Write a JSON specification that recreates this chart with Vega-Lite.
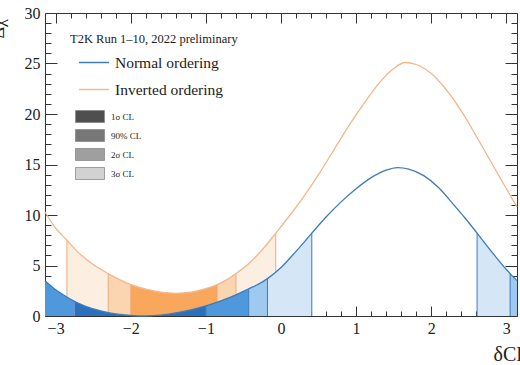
{
  "$schema": "https://vega.github.io/schema/vega-lite/v6.json",
  "width": 472,
  "height": 303,
  "autosize": "none",
  "padding": {"left": 45, "top": 13, "right": 3, "bottom": 49},
  "background": "white",
  "datasets": {
    "curves": [
      {"s": "Normal ordering", "x": -3.1416, "y": 3.5, "tone": "NO 90%", "piece": "n1"},
      {"s": "Normal ordering", "x": -3.0, "y": 2.6, "tone": "NO 90%", "piece": "n1"},
      {"s": "Normal ordering", "x": -2.9, "y": 2.1, "tone": "NO 90%", "piece": "n1"},
      {"s": "Normal ordering", "x": -2.75, "y": 1.45, "tone": "NO 90%", "piece": "n1"},
      {"s": "Normal ordering", "x": -2.75, "y": 1.45, "tone": "NO 1σ", "piece": "n2", "d": 1},
      {"s": "Normal ordering", "x": -2.6, "y": 0.95, "tone": "NO 1σ", "piece": "n2"},
      {"s": "Normal ordering", "x": -2.4, "y": 0.5, "tone": "NO 1σ", "piece": "n2"},
      {"s": "Normal ordering", "x": -2.2, "y": 0.2, "tone": "NO 1σ", "piece": "n2"},
      {"s": "Normal ordering", "x": -2.0, "y": 0.05, "tone": "NO 1σ", "piece": "n2"},
      {"s": "Normal ordering", "x": -1.8, "y": 0.0, "tone": "NO 1σ", "piece": "n2"},
      {"s": "Normal ordering", "x": -1.6, "y": 0.08, "tone": "NO 1σ", "piece": "n2"},
      {"s": "Normal ordering", "x": -1.4, "y": 0.3, "tone": "NO 1σ", "piece": "n2"},
      {"s": "Normal ordering", "x": -1.2, "y": 0.6, "tone": "NO 1σ", "piece": "n2"},
      {"s": "Normal ordering", "x": -1.0, "y": 1.0, "tone": "NO 1σ", "piece": "n2"},
      {"s": "Normal ordering", "x": -1.0, "y": 1.0, "tone": "NO 90%", "piece": "n3", "d": 1},
      {"s": "Normal ordering", "x": -0.8, "y": 1.5, "tone": "NO 90%", "piece": "n3"},
      {"s": "Normal ordering", "x": -0.6, "y": 2.1, "tone": "NO 90%", "piece": "n3"},
      {"s": "Normal ordering", "x": -0.43, "y": 2.7, "tone": "NO 90%", "piece": "n3"},
      {"s": "Normal ordering", "x": -0.43, "y": 2.7, "tone": "NO 2σ", "piece": "n4", "d": 1},
      {"s": "Normal ordering", "x": -0.3, "y": 3.15, "tone": "NO 2σ", "piece": "n4"},
      {"s": "Normal ordering", "x": -0.18, "y": 3.7, "tone": "NO 2σ", "piece": "n4"},
      {"s": "Normal ordering", "x": -0.18, "y": 3.7, "tone": "NO 3σ", "piece": "n5", "d": 1},
      {"s": "Normal ordering", "x": 0.0, "y": 4.8, "tone": "NO 3σ", "piece": "n5"},
      {"s": "Normal ordering", "x": 0.2, "y": 6.4, "tone": "NO 3σ", "piece": "n5"},
      {"s": "Normal ordering", "x": 0.41, "y": 8.2, "tone": "NO 3σ", "piece": "n5"},
      {"s": "Normal ordering", "x": 0.6, "y": 9.8, "tone": "none", "piece": "n0"},
      {"s": "Normal ordering", "x": 0.8, "y": 11.3, "tone": "none", "piece": "n0"},
      {"s": "Normal ordering", "x": 1.0, "y": 12.6, "tone": "none", "piece": "n0"},
      {"s": "Normal ordering", "x": 1.2, "y": 13.7, "tone": "none", "piece": "n0"},
      {"s": "Normal ordering", "x": 1.4, "y": 14.45, "tone": "none", "piece": "n0"},
      {"s": "Normal ordering", "x": 1.55, "y": 14.7, "tone": "none", "piece": "n0"},
      {"s": "Normal ordering", "x": 1.7, "y": 14.55, "tone": "none", "piece": "n0"},
      {"s": "Normal ordering", "x": 1.9, "y": 13.9, "tone": "none", "piece": "n0"},
      {"s": "Normal ordering", "x": 2.1, "y": 12.7, "tone": "none", "piece": "n0"},
      {"s": "Normal ordering", "x": 2.3, "y": 11.0, "tone": "none", "piece": "n0"},
      {"s": "Normal ordering", "x": 2.45, "y": 9.7, "tone": "none", "piece": "n0"},
      {"s": "Normal ordering", "x": 2.61, "y": 8.2, "tone": "NO 3σ", "piece": "n6"},
      {"s": "Normal ordering", "x": 2.8, "y": 6.4, "tone": "NO 3σ", "piece": "n6"},
      {"s": "Normal ordering", "x": 3.0, "y": 4.6, "tone": "NO 3σ", "piece": "n6"},
      {"s": "Normal ordering", "x": 3.05, "y": 4.2, "tone": "NO 3σ", "piece": "n6"},
      {"s": "Normal ordering", "x": 3.05, "y": 4.2, "tone": "NO 2σ", "piece": "n7", "d": 1},
      {"s": "Normal ordering", "x": 3.1416, "y": 3.5, "tone": "NO 2σ", "piece": "n7"},
      {"s": "Inverted ordering", "x": -3.1416, "y": 10.3, "tone": "none", "piece": "i0"},
      {"s": "Inverted ordering", "x": -3.0, "y": 8.7, "tone": "none", "piece": "i0"},
      {"s": "Inverted ordering", "x": -2.85, "y": 7.5, "tone": "none", "piece": "i0"},
      {"s": "Inverted ordering", "x": -2.85, "y": 7.5, "tone": "IO 3σ", "piece": "i1", "d": 1},
      {"s": "Inverted ordering", "x": -2.7, "y": 6.3, "tone": "IO 3σ", "piece": "i1"},
      {"s": "Inverted ordering", "x": -2.5, "y": 5.1, "tone": "IO 3σ", "piece": "i1"},
      {"s": "Inverted ordering", "x": -2.3, "y": 4.2, "tone": "IO 3σ", "piece": "i1"},
      {"s": "Inverted ordering", "x": -2.3, "y": 4.2, "tone": "IO 2σ", "piece": "i2", "d": 1},
      {"s": "Inverted ordering", "x": -2.15, "y": 3.6, "tone": "IO 2σ", "piece": "i2"},
      {"s": "Inverted ordering", "x": -2.0, "y": 3.1, "tone": "IO 2σ", "piece": "i2"},
      {"s": "Inverted ordering", "x": -2.0, "y": 3.1, "tone": "IO 90%", "piece": "i3", "d": 1},
      {"s": "Inverted ordering", "x": -1.8, "y": 2.65, "tone": "IO 90%", "piece": "i3"},
      {"s": "Inverted ordering", "x": -1.6, "y": 2.35, "tone": "IO 90%", "piece": "i3"},
      {"s": "Inverted ordering", "x": -1.4, "y": 2.25, "tone": "IO 90%", "piece": "i3"},
      {"s": "Inverted ordering", "x": -1.2, "y": 2.35, "tone": "IO 90%", "piece": "i3"},
      {"s": "Inverted ordering", "x": -1.0, "y": 2.7, "tone": "IO 90%", "piece": "i3"},
      {"s": "Inverted ordering", "x": -0.85, "y": 3.1, "tone": "IO 90%", "piece": "i3"},
      {"s": "Inverted ordering", "x": -0.85, "y": 3.1, "tone": "IO 2σ", "piece": "i4", "d": 1},
      {"s": "Inverted ordering", "x": -0.72, "y": 3.6, "tone": "IO 2σ", "piece": "i4"},
      {"s": "Inverted ordering", "x": -0.6, "y": 4.2, "tone": "IO 2σ", "piece": "i4"},
      {"s": "Inverted ordering", "x": -0.6, "y": 4.2, "tone": "IO 3σ", "piece": "i5", "d": 1},
      {"s": "Inverted ordering", "x": -0.4, "y": 5.4, "tone": "IO 3σ", "piece": "i5"},
      {"s": "Inverted ordering", "x": -0.2, "y": 7.0, "tone": "IO 3σ", "piece": "i5"},
      {"s": "Inverted ordering", "x": -0.07, "y": 8.2, "tone": "IO 3σ", "piece": "i5"},
      {"s": "Inverted ordering", "x": 0.1, "y": 9.8, "tone": "none", "piece": "i0"},
      {"s": "Inverted ordering", "x": 0.3, "y": 11.8, "tone": "none", "piece": "i0"},
      {"s": "Inverted ordering", "x": 0.5, "y": 14.0, "tone": "none", "piece": "i0"},
      {"s": "Inverted ordering", "x": 0.7, "y": 16.4, "tone": "none", "piece": "i0"},
      {"s": "Inverted ordering", "x": 0.9, "y": 18.8, "tone": "none", "piece": "i0"},
      {"s": "Inverted ordering", "x": 1.1, "y": 21.0, "tone": "none", "piece": "i0"},
      {"s": "Inverted ordering", "x": 1.3, "y": 23.0, "tone": "none", "piece": "i0"},
      {"s": "Inverted ordering", "x": 1.5, "y": 24.5, "tone": "none", "piece": "i0"},
      {"s": "Inverted ordering", "x": 1.65, "y": 25.1, "tone": "none", "piece": "i0"},
      {"s": "Inverted ordering", "x": 1.8, "y": 24.9, "tone": "none", "piece": "i0"},
      {"s": "Inverted ordering", "x": 2.0, "y": 24.0, "tone": "none", "piece": "i0"},
      {"s": "Inverted ordering", "x": 2.2, "y": 22.4, "tone": "none", "piece": "i0"},
      {"s": "Inverted ordering", "x": 2.4, "y": 20.3, "tone": "none", "piece": "i0"},
      {"s": "Inverted ordering", "x": 2.6, "y": 17.8, "tone": "none", "piece": "i0"},
      {"s": "Inverted ordering", "x": 2.8, "y": 15.2, "tone": "none", "piece": "i0"},
      {"s": "Inverted ordering", "x": 3.0, "y": 12.6, "tone": "none", "piece": "i0"},
      {"s": "Inverted ordering", "x": 3.1416, "y": 10.8, "tone": "none", "piece": "i0"}
    ],
    "edges": [
      {"s": "Normal ordering", "x": -1.0, "y": 1.0},
      {"s": "Normal ordering", "x": -0.43, "y": 2.7},
      {"s": "Normal ordering", "x": -0.18, "y": 3.7},
      {"s": "Normal ordering", "x": 0.41, "y": 8.2},
      {"s": "Normal ordering", "x": 2.61, "y": 8.2},
      {"s": "Normal ordering", "x": 3.05, "y": 4.2},
      {"s": "Inverted ordering", "x": -2.85, "y": 7.5},
      {"s": "Inverted ordering", "x": -2.3, "y": 4.2},
      {"s": "Inverted ordering", "x": -2.0, "y": 3.1},
      {"s": "Inverted ordering", "x": -0.85, "y": 3.1},
      {"s": "Inverted ordering", "x": -0.6, "y": 4.2},
      {"s": "Inverted ordering", "x": -0.07, "y": 8.2}
    ],
    "levels": [
      {"cl": "1σ CL"},
      {"cl": "90% CL"},
      {"cl": "2σ CL"},
      {"cl": "3σ CL"}
    ]
  },
  "resolve": {"scale": {"fill": "independent"}, "axis": {"x": "independent", "y": "independent"}},
  "layer": [
    {
      "data": {"name": "curves"},
      "transform": [{"filter": "datum.s == 'Inverted ordering' && datum.tone != 'none'"}],
      "mark": {"type": "area", "interpolate": "monotone"},
      "encoding": {
        "x": {"field": "x", "type": "quantitative", "scale": {"domain": [-3.1416, 3.1416], "nice": false, "zero": false}, "axis": null},
        "y": {"field": "y", "type": "quantitative", "stack": null, "scale": {"domain": [0, 30], "nice": false}, "axis": null},
        "detail": {"field": "piece", "type": "nominal"},
        "fill": {"field": "tone", "type": "nominal", "scale": {"domain": ["IO 3σ", "IO 2σ", "IO 90%"], "range": ["#fdeee2", "#fbd4b0", "#f8a75d"]}, "legend": null}
      }
    },
    {
      "data": {"name": "edges"},
      "transform": [{"filter": "datum.s == 'Inverted ordering'"}],
      "mark": {"type": "rule", "color": "#eeab7a", "strokeWidth": 1},
      "encoding": {
        "x": {"field": "x", "type": "quantitative", "axis": {
          "orient": "top", "labels": false, "title": null,
          "values": [-3, -2.8, -2.6, -2.4, -2.2, -2, -1.8, -1.6, -1.4, -1.2, -1, -0.8, -0.6, -0.4, -0.2, 0, 0.2, 0.4, 0.6, 0.8, 1, 1.2, 1.4, 1.6, 1.8, 2, 2.2, 2.4, 2.6, 2.8, 3],
          "tickSize": {"condition": {"test": "abs(datum.value - round(datum.value)) < 0.01", "value": -10}, "value": -5}
        }},
        "y": {"field": "y", "type": "quantitative", "axis": {
          "orient": "right", "labels": false, "title": null,
          "values": [0, 1, 2, 3, 4, 5, 6, 7, 8, 9, 10, 11, 12, 13, 14, 15, 16, 17, 18, 19, 20, 21, 22, 23, 24, 25, 26, 27, 28, 29, 30],
          "tickSize": {"condition": {"test": "datum.value % 5 == 0", "value": -12}, "value": -6}
        }},
        "y2": {"datum": 0}
      }
    },
    {
      "data": {"name": "curves"},
      "transform": [{"filter": "datum.s == 'Normal ordering' && datum.tone != 'none'"}],
      "mark": {"type": "area", "interpolate": "monotone"},
      "encoding": {
        "x": {"field": "x", "type": "quantitative", "axis": null},
        "y": {"field": "y", "type": "quantitative", "stack": null, "axis": null},
        "detail": {"field": "piece", "type": "nominal"},
        "fill": {"field": "tone", "type": "nominal", "scale": {"domain": ["NO 3σ", "NO 2σ", "NO 90%", "NO 1σ"], "range": ["#d5e7f7", "#9fc9ee", "#4f98dc", "#2b70bc"]}, "legend": null}
      }
    },
    {
      "data": {"name": "edges"},
      "transform": [{"filter": "datum.s == 'Normal ordering'"}],
      "mark": {"type": "rule", "color": "#3a7cbd", "strokeWidth": 1},
      "encoding": {
        "x": {"field": "x", "type": "quantitative", "axis": null},
        "y": {"field": "y", "type": "quantitative", "axis": null},
        "y2": {"datum": 0}
      }
    },
    {
      "data": {"name": "curves"},
      "transform": [{"filter": "!datum.d"}],
      "mark": {"type": "line", "interpolate": "monotone", "strokeWidth": 1.3},
      "encoding": {
        "x": {"field": "x", "type": "quantitative", "axis": {
          "orient": "bottom",
          "values": [-3, -2.8, -2.6, -2.4, -2.2, -2, -1.8, -1.6, -1.4, -1.2, -1, -0.8, -0.6, -0.4, -0.2, 0, 0.2, 0.4, 0.6, 0.8, 1, 1.2, 1.4, 1.6, 1.8, 2, 2.2, 2.4, 2.6, 2.8, 3],
          "format": ".0f",
          "labelExpr": "abs(datum.value - round(datum.value)) < 0.01 ? datum.label : ''",
          "tickSize": {"condition": {"test": "abs(datum.value - round(datum.value)) < 0.01", "value": -10}, "value": -5},
          "labelPadding": 14,
          "labelFlush": false,
          "title": "δCP",
          "titleFontSize": 20,
          "titleAnchor": "start",
          "titleAlign": "left",
          "titleX": 448,
          "titleY": 44,
          "titleBaseline": "alphabetic"
        }},
        "y": {"field": "y", "type": "quantitative", "axis": {
          "orient": "left",
          "values": [0, 1, 2, 3, 4, 5, 6, 7, 8, 9, 10, 11, 12, 13, 14, 15, 16, 17, 18, 19, 20, 21, 22, 23, 24, 25, 26, 27, 28, 29, 30],
          "labelExpr": "datum.value % 5 == 0 ? datum.label : ''",
          "tickSize": {"condition": {"test": "datum.value % 5 == 0", "value": -12}, "value": -6},
          "labelPadding": 17,
          "labelFlush": false,
          "title": "Δχ²",
          "titleFontSize": 18,
          "titleAngle": 270,
          "titleAlign": "right",
          "titleBaseline": "middle",
          "titleX": -47,
          "titleY": 0
        }},
        "stroke": {"field": "s", "type": "nominal", "scale": {"domain": ["Normal ordering", "Inverted ordering"], "range": ["#3a7cbd", "#f4b68a"]}, "legend": {
          "orient": "none", "legendX": 25, "legendY": 20, "padding": 0,
          "title": "T2K Run 1–10, 2022 preliminary",
          "titleFont": "Liberation Serif", "titleFontSize": 12.5, "titleFontWeight": "normal", "titleColor": "#222", "titlePadding": 1, "titleLimit": 300,
          "labelFont": "Liberation Serif", "labelFontSize": 15.5, "labelColor": "#222", "labelLimit": 300, "labelOffset": 5,
          "symbolType": "stroke", "symbolSize": 900, "symbolStrokeWidth": 1.5, "symbolOffset": 8,
          "rowPadding": 2
        }}
      }
    },
    {
      "data": {"name": "levels"},
      "mark": {"type": "point", "size": 0, "filled": true},
      "encoding": {
        "fill": {"field": "cl", "type": "nominal", "scale": {"domain": ["1σ CL", "90% CL", "2σ CL", "3σ CL"], "range": ["#4f4f4f", "#777777", "#9f9f9f", "#d2d2d2"]}, "legend": {
          "orient": "none", "legendX": 34.5, "legendY": 93, "padding": 0, "title": null,
          "symbolType": "M-1.45,-0.6H1.45V0.6H-1.45Z", "symbolSize": 400, "symbolStrokeColor": "#8a8a8a", "symbolStrokeWidth": 0.8, "symbolOpacity": 1,
          "labelFont": "Liberation Serif", "labelFontSize": 9, "labelColor": "#222", "labelOffset": 10.5,
          "rowPadding": 0
        }}
      }
    }
  ],
  "config": {
    "font": "Liberation Serif",
    "view": {"stroke": null},
    "axis": {
      "labelFont": "Liberation Serif", "titleFont": "Liberation Serif",
      "labelFontSize": 16, "labelColor": "#222", "titleColor": "#222", "titleFontWeight": "normal",
      "domainColor": "#333", "tickColor": "#333", "grid": false
    }
  }
}
